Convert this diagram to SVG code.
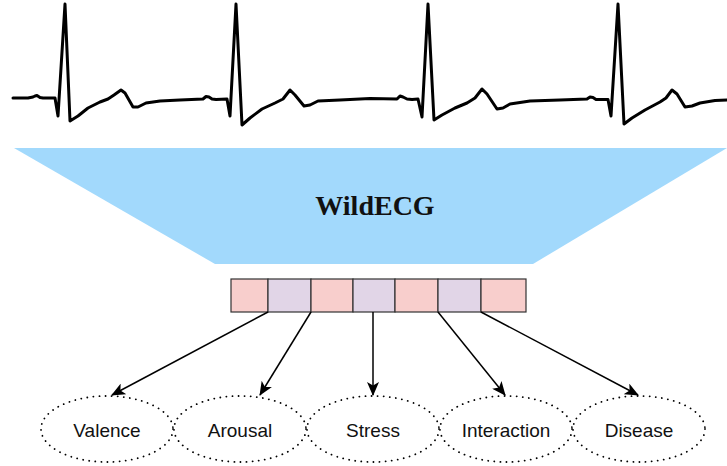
<svg xmlns="http://www.w3.org/2000/svg" width="727" height="466" viewBox="0 0 727 466">
<defs>
<style>
.ecg{fill:none;stroke:#000;stroke-width:3;stroke-linejoin:round;stroke-linecap:round}
.cell{stroke:#333;stroke-width:1.2}
.pink{fill:#f8cecc}
.lav{fill:#e1d5e7}
.conn{fill:none;stroke:#000;stroke-width:1.5}
.task{fill:#fff;stroke:#000;stroke-width:1.8;stroke-dasharray:0.1 6;stroke-linecap:round}
.lbl{font-family:"Liberation Sans",Arial,sans-serif;font-size:19px;fill:#111;text-anchor:middle}
.title{font-family:"Liberation Serif","Times New Roman",serif;font-size:28px;font-weight:bold;fill:#111;text-anchor:middle}
</style>
<marker id="arr" viewBox="0 0 14 12" refX="13" refY="6" markerWidth="14" markerHeight="12" markerUnits="userSpaceOnUse" orient="auto">
<path d="M0,0 L14,6 L0,12 L3.5,6 Z" fill="#000"/>
</marker>
</defs>
<g id="ecg-signal">
<polyline class="ecg" points="13,98 28,98 33,97 35,96 37,95.5 40,97.5 43,98 52,98 55,98 58,116 65,4 70,121 78,116 88,108 100,102 108,99 114,95 121,90 125,93 133,107 138,107 146,103 160,101 180,100 203,99 206,96.5 209,97 212,99 216,99.5 227,99 230,116 236,4 242,125 250,118 262,109 275,103 283,99 290,90 295,95 304,106 310,105 318,101 340,100 370,98.5 397,99 400,96 403,97 407,99 412,99.5 418,99 422,117 428,4 434,120 442,115 455,108 467,103 475,98 482,89 487,94 497,109 503,108 510,104 530,101 560,100 587,99 590,97 593,97.5 596,99.5 608,99.5 611,116 618,4 624,124 632,118 645,110 660,102 666,98 672,90 677,94 685,107 692,106 700,103 715,100.5 727,100"/>
</g>
<g id="wildecg">
<polygon points="14,148 727,148 533,264 215,264" fill="#a2d9fc"/>
<text class="title" x="375" y="215">WildECG</text>
</g>
<g id="embedding">
<rect class="cell pink" x="231" y="279" width="37" height="33"/>
<rect class="cell lav" x="268" y="279" width="43" height="33"/>
<rect class="cell pink" x="311" y="279" width="42" height="33"/>
<rect class="cell lav" x="353" y="279" width="42" height="33"/>
<rect class="cell pink" x="395" y="279" width="43" height="33"/>
<rect class="cell lav" x="438" y="279" width="43" height="33"/>
<rect class="cell pink" x="481" y="279" width="45" height="33"/>
</g>
<g id="connectors">
<line class="conn" x1="268" y1="312" x2="112" y2="395" marker-end="url(#arr)"/>
<line class="conn" x1="311" y1="312" x2="260" y2="395" marker-end="url(#arr)"/>
<line class="conn" x1="373" y1="312" x2="373" y2="395" marker-end="url(#arr)"/>
<line class="conn" x1="438" y1="312" x2="505" y2="395" marker-end="url(#arr)"/>
<line class="conn" x1="481" y1="312" x2="638" y2="395" marker-end="url(#arr)"/>
</g>
<g id="valence">
<ellipse class="task" cx="107" cy="429" rx="66" ry="33"/>
<text class="lbl" x="107" y="437">Valence</text>
</g>
<g id="arousal">
<ellipse class="task" cx="240" cy="429" rx="66" ry="33"/>
<text class="lbl" x="240" y="437">Arousal</text>
</g>
<g id="stress">
<ellipse class="task" cx="373" cy="429" rx="66" ry="33"/>
<text class="lbl" x="373" y="437">Stress</text>
</g>
<g id="interaction">
<ellipse class="task" cx="506" cy="429" rx="66" ry="33"/>
<text class="lbl" x="506" y="437">Interaction</text>
</g>
<g id="disease">
<ellipse class="task" cx="639" cy="429" rx="66" ry="33"/>
<text class="lbl" x="639" y="437">Disease</text>
</g>
</svg>
